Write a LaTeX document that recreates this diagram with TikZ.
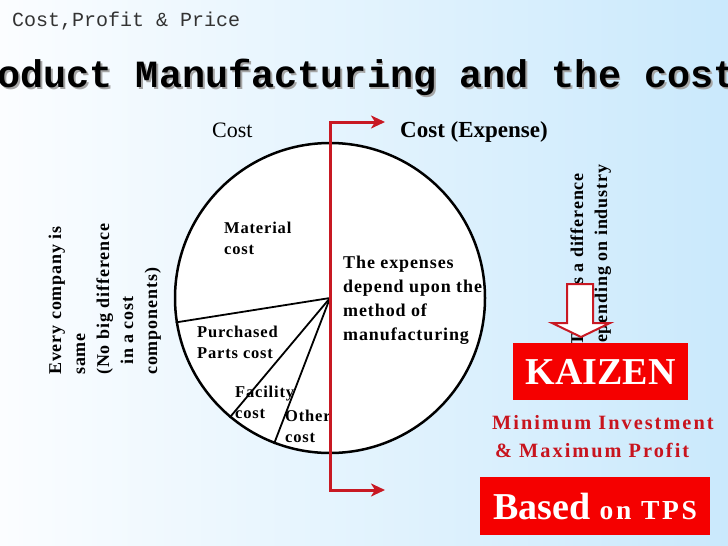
\documentclass[tikz,border=0pt]{standalone}
\usepackage{fontspec}
\setmainfont{Liberation Serif}
\newfontfamily\lblfont[LetterSpace=5]{Liberation Serif}
\newfontfamily\wideFont[LetterSpace=10]{Liberation Serif}
\newfontfamily\ttlfont{Liberation Mono}
\usetikzlibrary{arrows.meta}
\usepackage{xcolor}
\definecolor{bgLeft}{RGB}{251,253,255}
\definecolor{bgRight}{RGB}{202,233,252}
\definecolor{lineRed}{RGB}{200,25,35}
\definecolor{boxRed}{RGB}{245,0,0}
\definecolor{textRed}{RGB}{200,20,30}
\definecolor{shadowGray}{RGB}{165,165,165}

\begin{document}
\begin{tikzpicture}[
    x=1pt, y=-1pt,
    lbl/.style={align=left, inner sep=0pt, anchor=base west, font=\lblfont\bfseries\fontsize{16.5}{21.5}\selectfont},
    note/.style={lbl, font=\lblfont\bfseries\fontsize{18}{24}\selectfont},
    vnote/.style={note, rotate=90},
    ttl/.style={anchor=base west, inner sep=0pt, font=\ttlfont\bfseries\fontsize{38.5}{38.5}\selectfont},
    redbox/.style={rectangle, fill=boxRed, text=white, inner sep=0pt, font=\bfseries},
    slice/.style={line width=1.8pt},
    >={Stealth[length=14pt, width=13pt, inset=4pt]}
]
\useasboundingbox (0,0) rectangle (728,546);
\clip (0,0) rectangle (728,546);
\fill[left color=bgLeft, right color=bgRight] (0,0) rectangle (728,546);

\node[anchor=base west, inner sep=0pt, font=\ttlfont\fontsize{20}{20}\selectfont, text=black!80] (sub) at (12,26) {Cost,Profit \& Price};
\node[ttl, text=shadowGray] (ttlsh) at (-47,89) {Product Manufacturing and the cost};
\node[ttl] (ttl) at (-49,87) {Product Manufacturing and the cost};

\node[circle, draw, line width=2.5pt, fill=white, minimum size=310pt, inner sep=0pt] (pie) at (330,298) {};
\draw[slice] (pie.center) -- (pie.189);
\draw[slice] (pie.center) -- (pie.230);
\draw[slice] (pie.center) -- (pie.249);

\node[anchor=base west, inner sep=0pt, font=\fontsize{22}{22}\selectfont] (cost) at (212,137) {Cost};
\node[anchor=base west, inner sep=0pt, font=\bfseries\fontsize{23}{23}\selectfont] (expense) at (400,137) {Cost (Expense)};

\node[lbl] (mat) at (224,254.5) {Material\\cost};
\node[lbl] (parts) at (197,358.5) {Purchased\\Parts cost};
\node[lbl] (fac) at (235,418.5) {Facility\\cost};
\node[lbl] (other) at (285,442.5) {Other\\cost};
\node[note] (method) at (343,340) {The expenses\\depend upon the\\method of\\manufacturing};

\node[vnote] (same) at (157,375) {Every company is\\same\\(No big difference\\\hspace*{10pt}in a cost\\components)};

\coordinate (tl) at (330,122);
\coordinate (tr) at (385,122);
\coordinate (bl) at (330,490);
\coordinate (br) at (385,490);
\draw[lineRed, line width=3pt, <->] (tr) -- (tl) -- (bl) -- (br);

\node[vnote, align=center] (diff) at (607,354) {There is a difference\\depending on industry};

\draw[draw=lineRed, fill=white, line width=2pt, line join=miter]
    (567,284) -- (593,284) -- (593,323) -- (610,323) -- (581,337) -- (552,323) -- (567,323) -- cycle;

\node[redbox, minimum width=175pt, minimum height=57pt, font=\bfseries\fontsize{38}{38}\selectfont] (kaizen) at (600.5,371.5) {KAIZEN};

\node[lbl, text=textRed, font=\wideFont\bfseries\fontsize{20.3}{28}\selectfont] (minmax) at (492,457) {Minimum Investment\\\hspace*{3pt}\& Maximum Profit};

\node[redbox, minimum width=230pt, minimum height=58pt] (tps) at (595,506)
    {\fontsize{38}{38}\selectfont Based {\wideFont\fontsize{27.5}{27.5}\selectfont on TPS}};
\end{tikzpicture}
\end{document}
